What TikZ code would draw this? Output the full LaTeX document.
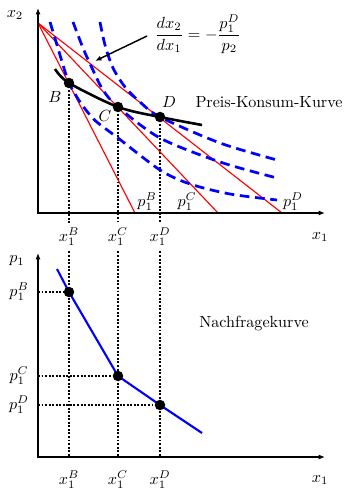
\documentclass[tikz,border=0pt]{standalone}
\usetikzlibrary{arrows.meta}

\begin{document}
\begin{tikzpicture}[x=0.62pt, y=-0.62pt, >={Latex[length=4pt,width=3.2pt]},
  axis/.style={<->, line width=1.2pt},
  budget/.style={red, line width=0.7pt},
  indiff/.style={blue, line width=1.7pt, dash pattern=on 6pt off 3.5pt},
  pkk/.style={black, line width=1.6pt},
  demand/.style={blue, line width=1.3pt},
  guide/.style={densely dotted, line width=1.2pt},
  pt/.style={circle, fill=black, inner sep=0pt, minimum size=6.5pt}]
  \useasboundingbox (0,0) rectangle (355,489);

  % oberes Diagramm
  \coordinate (O1) at (38,213);
  \coordinate (A) at (38,23);
  \coordinate (rB) at (135,213);
  \coordinate (rC) at (218,213);
  \coordinate (rD) at (282,213);
  \coordinate (tip) at (95,61);
  \coordinate (cB) at (69,83);
  \coordinate (cC) at (118,107);
  \coordinate (cD) at (160,117);

  \node (xB) at (69,237) {$x_1^B$};
  \node (xC) at (118,237) {$x_1^C$};
  \node (xD) at (160,237) {$x_1^D$};

  \draw[guide] (cB) -- (xB);
  \draw[guide] (cC) -- (xC);
  \draw[guide] (cD) -- (xD);

  \draw[budget] (A) -- (rB);
  \draw[budget] (A) -- (rC);
  \draw[budget] (A) -- (rD);

  \draw[indiff] plot[smooth] coordinates {(50,22) (57,45) (63,65) (69,83) (80,102) (90,115)
    (98,123) (118,138) (160,170) (190,184) (230,194) (277,200)};
  \draw[indiff] plot[smooth] coordinates {(73,22) (83,48) (92,68) (103,90) (118,107)
    (160,138) (220,162) (277,178)};
  \draw[indiff] plot[smooth] coordinates {(100,22) (105,45) (113,68) (125,87) (140,102)
    (160,117) (220,143) (277,160)};

  \draw[pkk] plot[smooth] coordinates {(55,69) (cB) (cC) (cD) (202,125)};
  \node[pt] (B) at (cB) {};
  \node[pt] (C) at (cC) {};
  \node[pt] (D) at (cD) {};

  \draw[axis] (38,8) -- (O1) -- (325,213);

  \node (x2) at (15,15) {$x_2$};
  \node (x1o) at (320,237) {$x_1$};
  \node (lB) at (55,97) {$B$};
  \node (lC) at (105,116) {$C$};
  \node (lD) at (169,102) {$D$};
  \node (pkkText) at (269,102) {Preis-Konsum-Kurve};
  \node (pB) at (147,202) {$p_1^B$};
  \node (pC) at (187,202) {$p_1^C$};
  \node (pD) at (293,202) {$p_1^D$};

  \node (form) at (198,34) {$\displaystyle\frac{dx_2}{dx_1}=-\frac{p_1^D}{p_2}$};
  \draw[->, line width=0.9pt] (form.west) ++(-2,2) -- (tip);

  % unteres Diagramm
  \coordinate (O2) at (38,457);
  \coordinate (fB) at (69,457);
  \coordinate (fC) at (118,457);
  \coordinate (fD) at (160,457);
  \coordinate (aB) at (38,292);
  \coordinate (aC) at (38,376);
  \coordinate (aD) at (38,405);
  \coordinate (dTop) at (57,269);
  \coordinate (dEnd) at (202,433);
  \coordinate (cdB) at (69,292);
  \coordinate (cdC) at (118,376);
  \coordinate (cdD) at (160,405);

  \draw[guide] (xB) -- (fB);
  \draw[guide] (xC) -- (fC);
  \draw[guide] (xD) -- (fD);
  \draw[guide] (aB) -- (cdB);
  \draw[guide] (aC) -- (cdC);
  \draw[guide] (aD) -- (cdD);

  \draw[demand] (dTop) -- (cdB) -- (cdC) -- (cdD) -- (dEnd);
  \node[pt] (dB) at (cdB) {};
  \node[pt] (dC) at (cdC) {};
  \node[pt] (dD) at (cdD) {};

  \draw[axis] (38,253) -- (O2) -- (325,457);

  \node (p1) at (17,261) {$p_1$};
  \node (p1B) at (19,292) {$p_1^B$};
  \node (p1C) at (19,376) {$p_1^C$};
  \node (p1D) at (19,405) {$p_1^D$};
  \node (nfk) at (254,323) {Nachfragekurve};
  \node (xBu) at (69,480) {$x_1^B$};
  \node (xCu) at (118,480) {$x_1^C$};
  \node (xDu) at (160,480) {$x_1^D$};
  \node (x1u) at (320,480) {$x_1$};
\end{tikzpicture}
\end{document}
